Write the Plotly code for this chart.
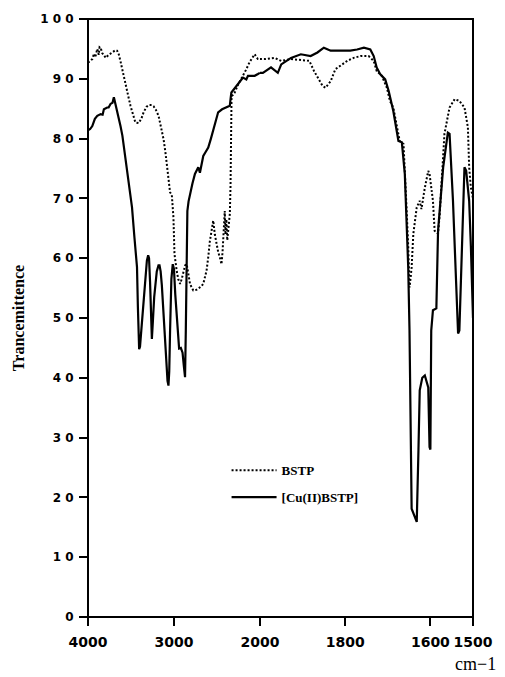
import plotly.graph_objects as go

# ---- data (wavenumber cm-1, % transmittance) ----
bstp_wn = [4000, 3975, 3950, 3930, 3915, 3892, 3875, 3865, 3853, 3835, 3815, 3795, 3760, 3719, 3680,
           3661, 3642, 3620, 3603, 3564, 3530, 3506, 3470, 3449, 3410, 3380, 3353, 3320, 3295, 3260,
           3237, 3210, 3179, 3150, 3121, 3100, 3083, 3060, 3045, 3025, 3006, 2994, 2980, 2968, 2950,
           2928, 2910, 2890, 2870, 2852, 2835, 2813, 2790, 2775, 2740, 2717, 2690, 2659, 2640, 2621,
           2600, 2582, 2560, 2543, 2525, 2505, 2485, 2467, 2447, 2435, 2428, 2415, 2409, 2400, 2390,
           2380, 2370, 2360, 2350, 2342, 2339, 2335, 2330, 2315, 2293, 2255, 2216, 2178, 2158, 2120,
           2101, 2080, 2061, 2040, 2023, 2000,
           1989, 1966, 1950, 1927, 1896, 1884, 1873, 1861, 1853, 1846, 1834, 1823, 1811, 1795, 1780,
           1764, 1745, 1733, 1726, 1714, 1702, 1695, 1687, 1679, 1672, 1663, 1660, 1656, 1652, 1649,
           1646, 1644, 1640, 1632, 1625, 1621, 1613, 1605, 1602, 1594, 1590, 1582, 1578, 1570, 1567,
           1555, 1543, 1532, 1520, 1512, 1509, 1505, 1500]
bstp_t = [92.7, 93.0, 93.3, 94.2, 93.6, 95.0, 94.0, 95.3, 95.2, 94.3, 94.0, 93.5, 94.0, 94.4, 94.8,
          94.7, 94.1, 92.8, 91.6, 88.8, 87.0, 85.5, 83.5, 82.7, 82.6, 83.3, 84.4, 85.3, 85.6, 85.6,
          85.4, 84.8, 83.8, 82.0, 79.9, 77.8, 75.7, 72.5, 71.0, 70.6, 66.8, 60.7, 59.0, 57.9, 56.5,
          55.7, 56.5, 57.9, 58.8, 59.0, 57.5, 55.7, 55.0, 54.6, 54.7, 54.9, 55.2, 55.7, 56.6, 57.9,
          60.3, 62.9, 64.8, 66.3, 64.0, 62.4, 61.0, 60.2, 59.0, 61.0, 62.9, 66.0, 67.9, 64.0, 66.5,
          63.0, 64.5, 67.0, 67.4, 72.0, 75.7, 81.3, 87.1, 87.3, 87.7, 89.0, 90.0, 91.0, 91.6, 92.8,
          93.3, 93.8, 94.1, 93.6, 93.3, 93.3,
          93.3, 93.5, 93.0, 93.3, 93.0, 93.0, 91.3, 89.9, 88.8, 88.5, 89.6, 91.6, 92.2, 93.0, 93.5,
          93.8, 93.8, 93.0, 91.3, 90.5, 88.5, 86.3, 85.2, 81.9, 79.6, 79.1, 75.2, 68.5, 62.0, 55.1,
          57.0, 58.5, 64.1, 68.5, 69.6, 68.2, 71.8, 74.6, 74.1, 69.6, 64.6, 64.1, 67.4, 76.3, 80.8,
          85.2, 86.6, 86.3, 85.2, 81.9, 75.2, 71.8, 70.0]

cu_wn = [4000, 3975, 3950, 3920, 3892, 3853, 3830, 3815, 3777, 3760, 3738, 3715, 3699, 3680, 3661,
         3640, 3622, 3600, 3584, 3564, 3520, 3488, 3460, 3430, 3420, 3412, 3405, 3395, 3380, 3353,
         3315, 3300, 3290, 3278, 3265, 3257, 3245, 3230, 3200, 3180, 3168, 3155, 3141, 3121, 3100,
         3075, 3064, 3055, 3045, 3030, 3014, 3000, 2985, 2968, 2950, 2940, 2920, 2900, 2885, 2871,
         2862, 2852, 2844, 2830, 2813, 2785, 2756, 2717, 2698, 2680, 2659, 2630, 2601, 2570, 2543,
         2515, 2486, 2440, 2390, 2350, 2340, 2332, 2300, 2255, 2220, 2197, 2158, 2139, 2100, 2061,
         2023, 2000,
         1993, 1974, 1958, 1950, 1927, 1904, 1881, 1865, 1850, 1834, 1811, 1788, 1772, 1756, 1741,
         1733, 1726, 1718, 1706, 1698, 1687, 1675, 1667, 1660, 1652, 1649, 1644, 1637, 1632, 1628,
         1625, 1619, 1613, 1605, 1602, 1600, 1598, 1594, 1586, 1582, 1570, 1559, 1555, 1547, 1535,
         1532, 1520, 1516, 1509, 1505, 1500]
cu_t = [81.4, 81.6, 82.1, 83.3, 83.8, 84.1, 84.0, 84.9, 85.2, 85.2, 85.8, 86.0, 86.9, 85.8, 84.4,
        83.0, 82.1, 80.5, 78.8, 76.8, 72.5, 68.5, 63.5, 58.5, 52.0, 46.0, 44.8, 45.2, 48.0, 53.5,
        59.6, 60.5, 60.0, 56.0, 49.0, 46.5, 49.5, 53.5, 57.8, 58.8, 58.8, 57.8, 55.5, 50.8, 44.5,
        39.5, 38.7, 41.0, 48.0, 56.5, 59.0, 58.2, 54.0, 50.0, 45.8, 44.9, 45.0, 44.2, 42.0, 40.1,
        48.0, 59.1, 67.9, 69.5, 70.7, 72.5, 74.1, 75.2, 74.3, 75.5, 77.1, 77.8, 78.5, 80.0, 81.3,
        83.0, 84.4, 84.9, 85.2, 85.5, 86.8, 87.7, 88.3, 89.1, 89.8, 90.2, 89.9, 90.5, 90.5, 90.5,
        90.8, 91.0,
        91.0, 91.9, 91.0, 92.4, 93.5, 94.1, 93.8, 94.4, 95.2, 94.7, 94.7, 94.7, 94.9, 95.2, 94.9,
        93.8, 91.9, 90.8, 89.9, 88.0, 84.6, 79.6, 79.4, 74.1, 58.5, 47.9, 18.1, 16.8, 15.9, 27.9,
        37.9, 40.0, 40.4, 38.4, 28.4, 28.0, 47.9, 51.3, 51.6, 64.6, 75.2, 81.0, 80.8, 69.6, 47.4,
        47.9, 75.2, 74.6, 69.6, 62.0, 50.0]

series_names = ["BSTP", "[Cu(II)BSTP]"]
y_ticks = [0, 10, 20, 30, 40, 50, 60, 70, 80, 90, 100]
y_ticktext = ["0", "1 0", "2 0", "3 0", "4 0", "5 0", "6 0", "7 0", "8 0", "9 0", "1 0 0"]
x_ticks_high = [4000, 3000, 2000]
x_ticks_low = [1800, 1600, 1500]


def split(wn, t):
    hi = [(w, v) for w, v in zip(wn, t) if w >= 2000]
    lo = [(w, v) for w, v in zip(wn, t) if w <= 2000]
    return ([a for a, _ in hi], [b for _, b in hi]), ([a for a, _ in lo], [b for _, b in lo])


fig = go.Figure()
styles = [dict(color="black", width=2, dash="2px,2px"), dict(color="black", width=2.2, dash="solid")]
for name, wn, t, st in [(series_names[0], bstp_wn, bstp_t, styles[0]),
                        (series_names[1], cu_wn, cu_t, styles[1])]:
    (hx, hy), (lx, ly) = split(wn, t)
    fig.add_trace(go.Scatter(x=hx, y=hy, mode="lines", line=st, name=name,
                             legendgroup=name, showlegend=True, xaxis="x", yaxis="y"))
    fig.add_trace(go.Scatter(x=lx, y=ly, mode="lines", line=st, name=name,
                             legendgroup=name, showlegend=False, xaxis="x2", yaxis="y"))

W, H = 505, 677
ml, mr, mt, mb = 88, 28, 18, 60
pw = W - ml - mr
split_frac = (261.7 - ml) / pw

tickfont_x = dict(family="DejaVu Sans", size=14, color="black", weight="bold")
fig.update_layout(
    width=W, height=H,
    margin=dict(l=ml, r=mr, t=mt, b=mb),
    paper_bgcolor="white", plot_bgcolor="white",
    xaxis=dict(domain=[0, split_frac], range=[4000, 2000], tickvals=x_ticks_high,
               ticktext=[str(v) for v in x_ticks_high], ticks="outside", ticklen=8, tickwidth=2,
               tickcolor="black", showgrid=False, zeroline=False, showline=False,
               ticklabelstandoff=4, tickfont=tickfont_x, anchor="y"),
    xaxis2=dict(domain=[split_frac, 1], range=[2000, 1500], tickvals=x_ticks_low,
                ticktext=[str(v) for v in x_ticks_low], ticks="outside", ticklen=8, tickwidth=2,
                tickcolor="black", showgrid=False, zeroline=False, showline=False,
                ticklabelstandoff=4, tickfont=tickfont_x, anchor="y"),
    yaxis=dict(range=[0, 100], tickvals=y_ticks, ticktext=y_ticktext, ticks="outside",
               ticklen=8, tickwidth=2, tickcolor="black", showgrid=False, zeroline=False,
               showline=False, ticklabelstandoff=3,
               tickfont=dict(family="DejaVu Sans", size=12, color="black", weight="bold"),
               title=dict(text="Trancemittence", standoff=11,
                          font=dict(family="Liberation Serif", size=16, color="black",
                                    weight="bold"))),
    legend=dict(x=(228 - ml) / pw, y=(mt + 599 - 455) / 599, xanchor="left", yanchor="top",
                bgcolor="rgba(0,0,0,0)", borderwidth=0, tracegroupgap=7, traceorder="grouped",
                itemwidth=45,
                font=dict(family="Liberation Serif", size=13, color="black", weight="bold")),
    shapes=[dict(type="rect", xref="paper", yref="paper", x0=0, x1=1, y0=0, y1=1,
                 line=dict(color="black", width=2), layer="above")],
    annotations=[dict(text="cm\u22121", xref="paper", yref="paper", xanchor="center",
                      yanchor="middle",
                      x=(480 - ml) / pw, y=(617 - 664) / 599, showarrow=False,
                      font=dict(family="Liberation Serif", size=18, color="black"))],
)

fig.write_html("out.html")
